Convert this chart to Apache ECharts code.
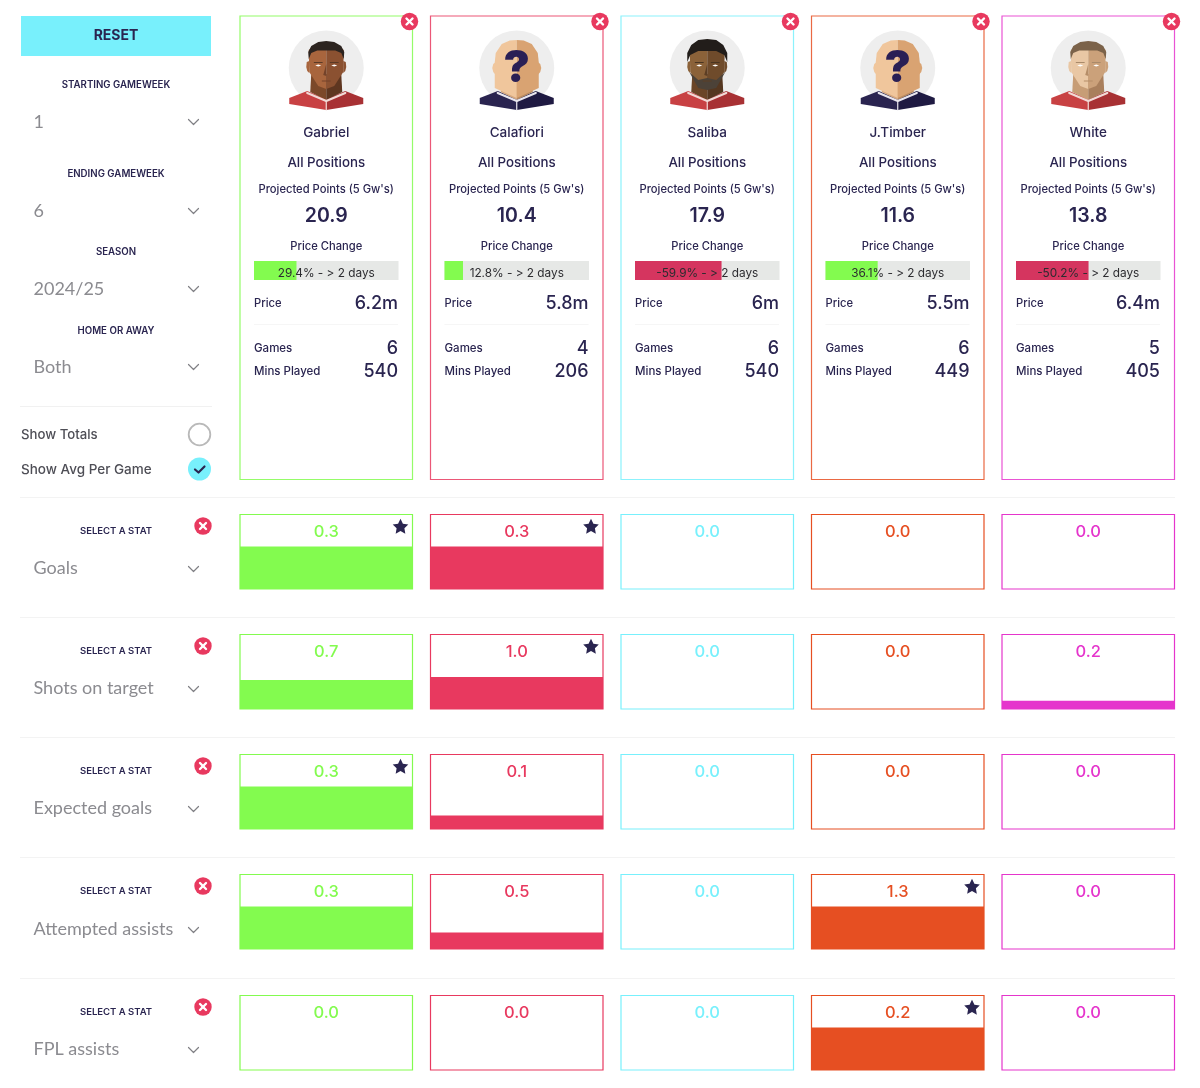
<!DOCTYPE html>
<html><head><meta charset="utf-8">
<style>html,body{margin:0;padding:0;background:#fff}#c{width:1200px;height:1088px}</style>
<script src="https://cdn.jsdelivr.net/npm/echarts@6/dist/echarts.min.js"></script>
</head><body><div id="c"></div>
<script>
const players = ['Gabriel','Calafiori','Saliba','J.Timber','White'];
const positionLabels = ['All Positions','All Positions','All Positions','All Positions','All Positions'];
const projected = ['20.9','10.4','17.9','11.6','13.8'];
const priceChange = [29.4,12.8,-59.9,36.1,-50.2];
const prices = ['6.2m','5.8m','6m','5.5m','6.4m'];
const games = [6,4,6,6,5];
const minsPlayed = [540,206,540,449,405];
const playerColors = ['#83fb4f','#e8395f','#78f0fc','#e64f22','#e535cc'];
const statNames = ['Goals','Shots on target','Expected goals','Attempted assists','FPL assists'];
const goalsVals = ['0.3','0.3','0.0','0.0','0.0'];
const shotsVals = ['0.7','1.0','0.0','0.0','0.2'];
const xgVals = ['0.3','0.1','0.0','0.0','0.0'];
const attAssistVals = ['0.3','0.5','0.0','1.3','0.0'];
const fplAssistVals = ['0.0','0.0','0.0','0.2','0.0'];
const goalsFill = [57,57,0,0,0];
const shotsFill = [39,43,0,0,11];
const xgFill = [57,18,0,0,0];
const attAssistFill = [57,22,0,57,0];
const fplAssistFill = [0,0,0,57,0];
const goalsStars = [1,1,0,0,0];
const shotsStars = [0,1,0,0,0];
const xgStars = [1,0,0,0,0];
const attAssistStars = [0,0,0,1,0];
const fplAssistStars = [0,0,0,1,0];
const filters = [['STARTING GAMEWEEK','1'],['ENDING GAMEWEEK','6'],['SEASON','2024/25'],['HOME OR AWAY','Both']];

const statVals = [goalsVals,shotsVals,xgVals,attAssistVals,fplAssistVals];
const statFill = [goalsFill,shotsFill,xgFill,attAssistFill,fplAssistFill];
const statStars = [goalsStars,shotsStars,xgStars,attAssistStars,fplAssistStars];

const FF = 'Inter, sans-serif', FL = 'Lato, sans-serif', NAVY = '#2a2550', GREY = '#8b8b90', RED = '#e8395f', CY = '#78f0fc';
const cardX = [240,430.5,621,811.5,1002], cardW = 172.5;
const rowY = [514.5,634.5,754.5,874.5,995.5], rowH = 74.5;
const rowLabelY = [531,651,771,891,1012], rowSelY = [568,688,808,929,1049], rowXY = [526,646,766,886,1007];
const divY = [497,617,737,857,978];

const g = [];
function T(text,x,y,size,weight,fill,align,fam){
  g.push({type:'text',z:10,silent:true,style:{text:String(text),x,y,fill,font:`${weight} ${size}px ${fam||FF}`,
    textAlign:align||'center',textVerticalAlign:'middle',align:align||'center',verticalAlign:'middle'}});
}
function P(points,fill,z){g.push({type:'polygon',z:z||5,silent:true,shape:{points,smooth:0},style:{fill}});}
function L(points,stroke,lw,z){g.push({type:'polyline',z:z||6,silent:true,shape:{points},style:{stroke,lineWidth:lw,fill:'none',lineCap:'round',lineJoin:'round'}});}
function C(cx,cy,r,style,z){g.push({type:'circle',z:z||5,silent:true,shape:{cx,cy,r},style});}
function R(x,y,width,height,style,z){g.push({type:'rect',z:z||1,silent:true,shape:{x,y,width,height},style});}
function closeBtn(x,y){C(x,y,8.7,{fill:RED},8);
  L([[x-3,y-3],[x+3,y+3]],'#fff',2.4,9);L([[x+3,y-3],[x-3,y+3]],'#fff',2.4,9);}
function chevron(x,y){L([[x-5,y-2.5],[x,y+2.5],[x+5,y-2.5]],'#808085',1.2);}
function star(x,y,r){const pts=[];for(let i=0;i<10;i++){const a=-Math.PI/2+i*Math.PI/5,q=i%2?r*0.5:r;pts.push([x+q*Math.cos(a),y+q*Math.sin(a)]);}
  P(pts,NAVY,9);}
function rel(cx,cy,pts){return pts.map(p=>[cx+p[0],cy+p[1]]);}
function avatar(cx,cy,o){
  C(cx,cy,37.5,{fill:'#eeeeee'},2);
  const m=pts=>pts.map(p=>[-p[0],p[1]]);
  const shL=[[-37,30],[-19,23],[0,31],[0,42],[-37,36]];
  P(rel(cx,cy,shL),o.shirtL,3);P(rel(cx,cy,m(shL)),o.shirtR,3);
  const nk=[[-15,6],[0,6],[0,32],[-16,24]];
  P(rel(cx,cy,nk),o.neckL,3);P(rel(cx,cy,m(nk)),o.neckR,3);
  L(rel(cx,cy,[[-19,25],[0,33],[19,25]]),o.collar,2.2,4);
  L(rel(cx,cy,[[0,33],[0,42]]),o.collar,1.2,4);
  if(o.mystery){
    const h=[[-22,-6],[-21,-15],[-15,-24],[-7,-27.5],[0,-28],[0,30],[-22,20]];
    P(rel(cx,cy,[[-24.5,0],[-23.5,-4],[-21,-6],[-21,7],[-23.5,4]]),o.skinL,4);P(rel(cx,cy,[[24.5,0],[23.5,-4],[21,-6],[21,7],[23.5,4]]),o.skinR,4);
    P(rel(cx,cy,h),o.skinL,4);P(rel(cx,cy,m(h)),o.skinR,4);
    g.push({type:'text',z:7,silent:true,style:{text:'?',x:cx,y:cy+1,fill:'#2a1f55',font:`900 44px ${FF}`,textAlign:'center',textVerticalAlign:'middle',align:'center',verticalAlign:'middle'}});
    return;
  }
  const h=[[-17.5,-18],[-10,-24],[0,-25],[0,21],[-8,18],[-17,4]];
  P(rel(cx,cy,[[-20,-1],[-19.5,-6],[-17,-7],[-17,5],[-19,3]]),o.skinL,4);P(rel(cx,cy,[[20,-1],[19.5,-6],[17,-7],[17,5],[19,3]]),o.skinR,4);
  P(rel(cx,cy,h),o.skinL,4);P(rel(cx,cy,m(h)),o.skinR,4);
  if(o.beard){P(rel(cx,cy,[[-18,4],[-9,12],[0,10],[9,12],[18,4],[9,20],[0,22],[-9,20]]),o.beard,5);}
  P(rel(cx,cy,[[0,-4],[-3,7],[0,8]]),o.nose,5);
  L(rel(cx,cy,[[-4,13],[4,13]]),o.nose,1,5);
  P(rel(cx,cy,o.hair),o.hairC,5);
  L(rel(cx,cy,[[-12,-5.5],[-4,-5.5]]),o.brow,1,6);L(rel(cx,cy,[[12,-5.5],[4,-5.5]]),o.brow,1,6);
  P(rel(cx,cy,[[-11,-2.5],[-8,-3.6],[-5,-2.5],[-8,-1.4]]),'#fff',6);P(rel(cx,cy,[[11,-2.5],[8,-3.6],[5,-2.5],[8,-1.4]]),'#fff',6);
}
const hairShort=[[-17.5,-9],[-18,-16],[-15,-22],[-8,-26],[0,-27],[8,-26],[15,-22],[18,-16],[17.5,-9],[15,-15],[9,-17.5],[-9,-17.5],[-15,-15]];
const hairWide=[[-20,-6],[-20,-15],[-16,-23],[-9,-28],[0,-29],[9,-28],[16,-23],[20,-15],[20,-6],[17,-13],[9,-17],[-9,-17],[-17,-13]];
const avatarOpts=[
 {skinL:'#a8653d',skinR:'#8b5131',neckL:'#7b4829',neckR:'#5e3620',nose:'#74432a',hair:hairShort,hairC:'#2c2420',brow:'#5b3a26',shirtL:'#c84143',shirtR:'#a83134',collar:'#f1d9d5'},
 {mystery:true,skinL:'#f0c69c',skinR:'#d9a372',neckL:'#d6a87e',neckR:'#b98a5f',shirtL:'#2a2450',shirtR:'#1f1a42',collar:'#e9e6ee'},
 {skinL:'#8b6239',skinR:'#6f4b2b',neckL:'#6a4527',neckR:'#553720',nose:'#5c3e24',hair:hairWide,hairC:'#221d1a',brow:'#4a3521',beard:'#4c4238',shirtL:'#c84143',shirtR:'#a83134',collar:'#f1d9d5'},
 {mystery:true,skinL:'#f0c69c',skinR:'#d9a372',neckL:'#d6a87e',neckR:'#b98a5f',shirtL:'#2a2450',shirtR:'#1f1a42',collar:'#e9e6ee'},
 {skinL:'#e9c7a4',skinR:'#cba17a',neckL:'#c79d76',neckR:'#a97f5c',nose:'#b58d68',hair:hairShort,hairC:'#7b6249',brow:'#a98a6a',shirtL:'#c84143',shirtR:'#a83134',collar:'#f1d9d5'}
];

// left panel
R(21,16,190,40,{fill:CY});
T('RESET',116,36,14,700,NAVY);
const fLabelY=[85,174,252.5,331], fValY=[122,211,289,367];
filters.forEach((f,i)=>{T(f[0],116,fLabelY[i],9.7,600,NAVY);T(f[1],33.5,fValY[i],18,400,GREY,'left',FL);chevron(193.5,fValY[i]);});
R(20,406,192,1,{fill:'#f1f1f1'});
T('Show Totals',21,435,13.2,500,'#4e4e56','left');
T('Show Avg Per Game',21,469.5,13.5,500,'#4e4e56','left');
C(199.5,434.5,10.8,{fill:'#fff',stroke:'#b9b9b9',lineWidth:1.8});
C(199.5,469,11.5,{fill:CY});
L([[195,469.5],[198.5,472.5],[204.5,466.5]],NAVY,2.2);
divY.forEach(y=>R(20,y,1155,1,{fill:'#f3f3f3'}));
statNames.forEach((s,i)=>{
  T('SELECT A STAT',116,rowLabelY[i]+.5,9.5,600,NAVY);
  T(s,33.5,rowSelY[i]+.5,18,400,GREY,'left',FL);
  chevron(193.5,rowSelY[i]+1);
  closeBtn(203,rowXY[i]);
});
// cards
players.forEach((p,i)=>{
  const x=cardX[i],cx=x+cardW/2,col=playerColors[i],rx=x+158,lx=x+14;
  R(x,16,cardW,463.5,{fill:'none',stroke:col,lineWidth:1.2,opacity:.85},1);
  closeBtn(x+cardW-3,21.5);
  avatar(cx,68,avatarOpts[i]);
  T(p,cx,132.5,13.5,500,NAVY);
  T(positionLabels[i],cx,163,13.3,500,NAVY);
  T("Projected Points (5 Gw's)",cx,189.5,11.2,500,NAVY);
  T(projected[i],cx,216.5,19.5,600,NAVY);
  T('Price Change',cx,246.5,11.2,500,NAVY);
  const v=priceChange[i];
  T(`${v}% - > 2 days`,cx,273.5,11.8,400,'#2c2c30');
  T('Price',lx,304,11.2,500,NAVY,'left');
  T(prices[i],rx,304,18,500,NAVY,'right');
  R(lx,324,144,1,{fill:'#f6f6f6'},2);
  T('Games',lx,349,11.5,500,NAVY,'left');
  T(games[i],rx,349,18,500,NAVY,'right');
  T('Mins Played',lx,372,11.5,500,NAVY,'left');
  T(minsPlayed[i],rx,372,18,500,NAVY,'right');
  statVals.forEach((vals,r)=>{
    T(vals[i],cx,Math.round(rowY[r])+17,16.5,500,col);
    if(statStars[r][i]) star(x+cardW-12,rowY[r]+12.5,8.2);
  });
});

const grids=[],xAxes=[],yAxes=[],series=[];
function hidden(o){return Object.assign({show:false},o);}
// price change bars
priceChange.forEach((v,i)=>{
  const n=grids.length;
  grids.push({left:cardX[i]+14,top:261,width:144.5,height:19,show:true,backgroundColor:'#e6e8e6',borderWidth:0});
  xAxes.push(hidden({type:'value',gridIndex:n,min:0,max:100}));
  yAxes.push(hidden({type:'category',gridIndex:n,data:['Price change']}));
  series.push({type:'bar',xAxisIndex:n,yAxisIndex:n,barWidth:'100%',silent:true,animation:false,z:3,
    data:[Math.abs(v)],itemStyle:{color:v<0?'#d5355f':'#83fb4f'}});
});
// stat cells
statFill.forEach((row,r)=>{
  row.forEach((v,i)=>{
    const n=grids.length;
    grids.push({left:cardX[i],top:rowY[r],width:cardW,height:rowH,show:true,backgroundColor:'#fff',borderColor:playerColors[i],borderWidth:1.2});
    xAxes.push(hidden({type:'category',gridIndex:n,data:[statNames[r]]}));
    yAxes.push(hidden({type:'value',gridIndex:n,min:0,max:100}));
    series.push({type:'bar',xAxisIndex:n,yAxisIndex:n,barWidth:'100%',silent:true,animation:false,z:3,
      data:[v],itemStyle:{color:playerColors[i]}});
  });
});
const chart=echarts.init(document.getElementById('c'),null,{renderer:'canvas'});
chart.setOption({animation:false,backgroundColor:'#fff',tooltip:{show:false},grid:grids,xAxis:xAxes,yAxis:yAxes,series,graphic:{elements:g}});
</script></body></html>
